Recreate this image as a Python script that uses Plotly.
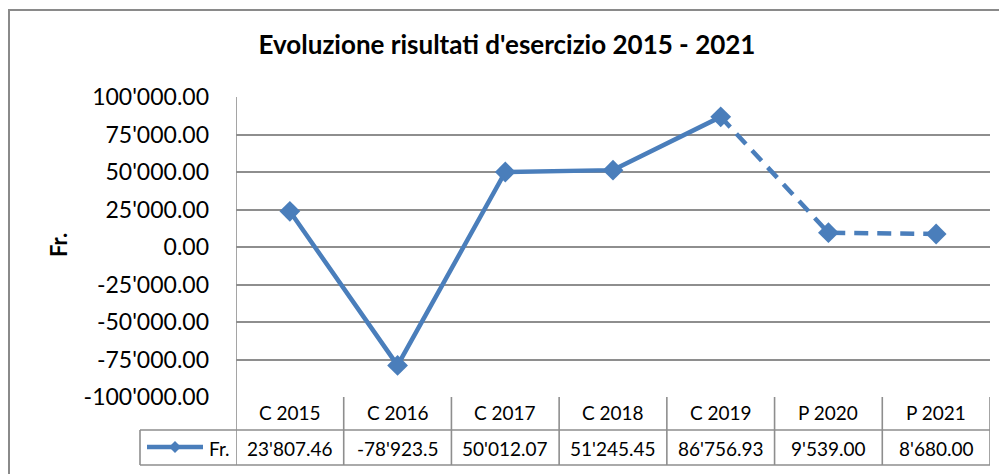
import plotly.graph_objects as go

categories = ["C 2015", "C 2016", "C 2017", "C 2018", "C 2019", "P 2020", "P 2021"]
values = [23807.46, -78923.5, 50012.07, 51245.45, 86756.93, 9539.00, 8680.00]
value_labels = ["23'807.46", "-78'923.5", "50'012.07", "51'245.45", "86'756.93", "9'539.00", "8'680.00"]
y_ticks = [100000, 75000, 50000, 25000, 0, -25000, -50000, -75000, -100000]
y_tick_labels = ["100'000.00", "75'000.00", "50'000.00", "25'000.00", "0.00",
                 "-25'000.00", "-50'000.00", "-75'000.00", "-100'000.00"]
series_name = "Fr."
n_consuntivo = 5  # C = consuntivo (linea piena), P = preventivo (tratteggiata)

BLUE = "#4A7EBB"
GRID = "#8E8E8E"
FONT = "Lato"

# la pagina ha 8px di margine nel body: lavoro in coordinate della pagina e sottraggo OFF
OFF = 8
W, H = 1007 - OFF, 474 - OFF
L, R, T, B = 236 - OFF, 17, 97 - OFF, 77
PW, PH = W - L - R, H - T - B


def px(x):
    return (x - OFF - L) / PW


def py(y):
    return (H + OFF - B - y) / PH


fig = go.Figure()

# parte consuntiva: linea continua
fig.add_trace(go.Scatter(
    x=categories[:n_consuntivo], y=values[:n_consuntivo], mode="lines",
    line=dict(color=BLUE, width=4.5), showlegend=False, hoverinfo="skip"
))
# parte preventiva: linea tratteggiata
fig.add_trace(go.Scatter(
    x=categories[n_consuntivo - 1:], y=values[n_consuntivo - 1:], mode="lines",
    line=dict(color=BLUE, width=4.5, dash="14px,9px"), showlegend=False, hoverinfo="skip"
))
# marcatori
fig.add_trace(go.Scatter(
    x=categories, y=values, mode="markers", name=series_name,
    marker=dict(symbol="diamond", size=16, color=BLUE), showlegend=False
))

line_style = dict(color=GRID, width=1.6)
shapes = []
# righe orizzontali della tabella
for y in (430, 465):
    shapes.append(dict(type="line", xref="paper", yref="paper",
                       x0=px(140), x1=1, y0=py(y), y1=py(y), line=line_style))
# divisori verticali tra le categorie
for i in range(len(categories) + 1):
    y_top = 97 if i == 0 else 397
    shapes.append(dict(type="line", xref="x", yref="paper",
                       x0=i - 0.5, x1=i - 0.5, y0=py(y_top), y1=py(465), line=line_style))
# bordo sinistro cella legenda
shapes.append(dict(type="line", xref="paper", yref="paper",
                   x0=px(140), x1=px(140), y0=py(430), y1=py(465), line=line_style))
# cornice esterna del grafico
shapes.append(dict(type="line", xref="paper", yref="paper",
                   x0=px(8), x1=px(1007), y0=py(10), y1=py(10), line=dict(color="#8A8A8A", width=2)))
shapes.append(dict(type="line", xref="paper", yref="paper",
                   x0=px(9), x1=px(9), y0=py(10), y1=py(474), line=dict(color="#8A8A8A", width=2)))
# simbolo legenda nella tabella
shapes.append(dict(type="line", xref="paper", yref="paper",
                   x0=px(147), x1=px(203), y0=py(447), y1=py(447), line=dict(color=BLUE, width=4.5)))
cx, cy, d = 175, 447, 6
shapes.append(dict(
    type="path", xref="paper", yref="paper", fillcolor=BLUE, line=dict(color=BLUE, width=0),
    path=f"M {px(cx - d)} {py(cy)} L {px(cx)} {py(cy - d)} L {px(cx + d)} {py(cy)} L {px(cx)} {py(cy + d)} Z"
))

annotations = []
for cat, lab in zip(categories, value_labels):
    annotations.append(dict(x=cat, y=py(413), xref="x", yref="paper", text=cat, showarrow=False,
                            font=dict(family=FONT, size=19, color="black"), yanchor="middle"))
    annotations.append(dict(x=cat, y=py(448), xref="x", yref="paper", text=lab, showarrow=False,
                            font=dict(family=FONT, size=19, color="black"), yanchor="middle"))
annotations.append(dict(x=px(207), y=py(448), xref="paper", yref="paper", text=series_name,
                        showarrow=False, xanchor="left", yanchor="middle",
                        font=dict(family=FONT, size=19, color="black")))
# titolo asse y
annotations.append(dict(x=px(58), y=py(245), xref="paper", yref="paper", text="<b>Fr.</b>",
                        showarrow=False, textangle=-90, xanchor="center", yanchor="middle",
                        font=dict(family=FONT, size=22, color="black")))

fig.update_layout(
    width=W, height=H,
    margin=dict(l=L, r=R, t=T, b=B),
    paper_bgcolor="white", plot_bgcolor="white",
    title=dict(text="<b>Evoluzione risultati d'esercizio 2015 - 2021</b>",
               x=(507 - OFF) / W, xref="container", xanchor="center",
               y=1 - (45 - OFF) / H, yanchor="middle",
               font=dict(family=FONT, size=26, color="black")),
    xaxis=dict(type="category", categoryorder="array", categoryarray=categories,
               range=[-0.5, len(categories) - 0.5], showticklabels=False,
               showgrid=False, zeroline=False, showline=False, fixedrange=True),
    yaxis=dict(range=[-100000, 100000], tickvals=y_ticks, ticktext=y_tick_labels,
               showgrid=True, gridcolor=GRID, gridwidth=1.6, zeroline=False, showline=False,
               ticks="", ticklabelstandoff=26,
               tickfont=dict(family=FONT, size=23, color="black"), fixedrange=True),
    shapes=shapes, annotations=annotations,
    showlegend=False,
)

fig.write_html("out.html")
